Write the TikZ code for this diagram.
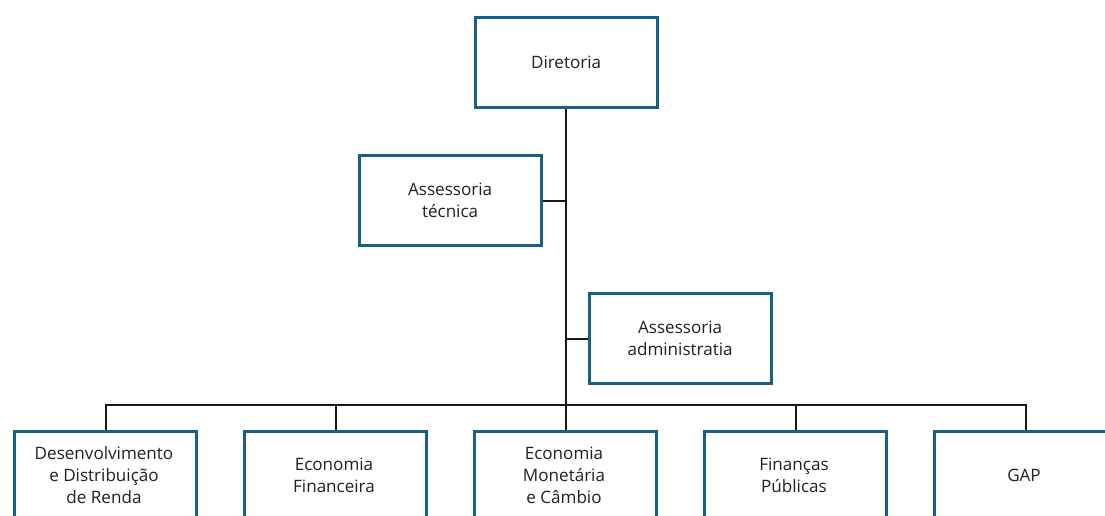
\documentclass[tikz,border=0pt]{standalone}
\usepackage{fontspec}
\setmainfont{Open Sans}
\definecolor{boxblue}{RGB}{22,96,132}
\definecolor{txt}{RGB}{35,31,32}
\begin{document}
\begin{tikzpicture}[x=0.75pt,y=-0.75pt,
  labeltext/.style={font=\fontsize{12.8}{16.5}\selectfont,text=txt,align=center},
  unit/.style={draw=boxblue,line width=2.4pt,fill=white,minimum width=182*0.75pt,
    minimum height=90*0.75pt,labeltext,inner sep=0pt,anchor=north west},
  lowunit/.style={unit,minimum height=110*0.75pt},
  link/.style={draw=black!90,line width=1.4pt}]
\clip (0,0) rectangle (1105,515);
\fill[white] (0,0) rectangle (1105,515);
% top and staff units
\node[unit] (dir) at (473.5,15.5) {Diretoria};
\node[unit] (tec) at (357.5,154) {Assessoria\\técnica};
\node[unit] (adm) at (587.5,292) {Assessoria\\administratia};
% departments
\node[lowunit] (d1) at (13,430) {};
\node[lowunit] (d2) at (243,430) {};
\node[lowunit] (d3) at (473,430) {};
\node[lowunit] (d4) at (703,430) {};
\node[lowunit] (d5) at (933,430) {};
\node[labeltext] (t1) at (104,475) {Desenvolvimento\\e Distribuição\\de Renda};
\node[labeltext] (t2) at (334,475) {Economia\\Financeira};
\node[labeltext] (t3) at (564,475) {Economia\\Monetária\\e Câmbio};
\node[labeltext] (t4) at (794,475) {Finanças\\Públicas};
\node[labeltext] (t5) at (1024,475) {GAP};
% connectors
\coordinate (bus) at (565,405);
\draw[link] (dir.south) -- (dir.south |- bus);
\draw[link] (tec.east) -- (tec.east -| dir.south);
\draw[link] (adm.west) -- (adm.west -| dir.south);
\draw[link] (d1.north) -- (d1.north |- bus) -- (d5.north |- bus) -- (d5.north);
\foreach \d in {d2,d3,d4} \draw[link] (\d.north) -- (\d.north |- bus);
\end{tikzpicture}
\end{document}
